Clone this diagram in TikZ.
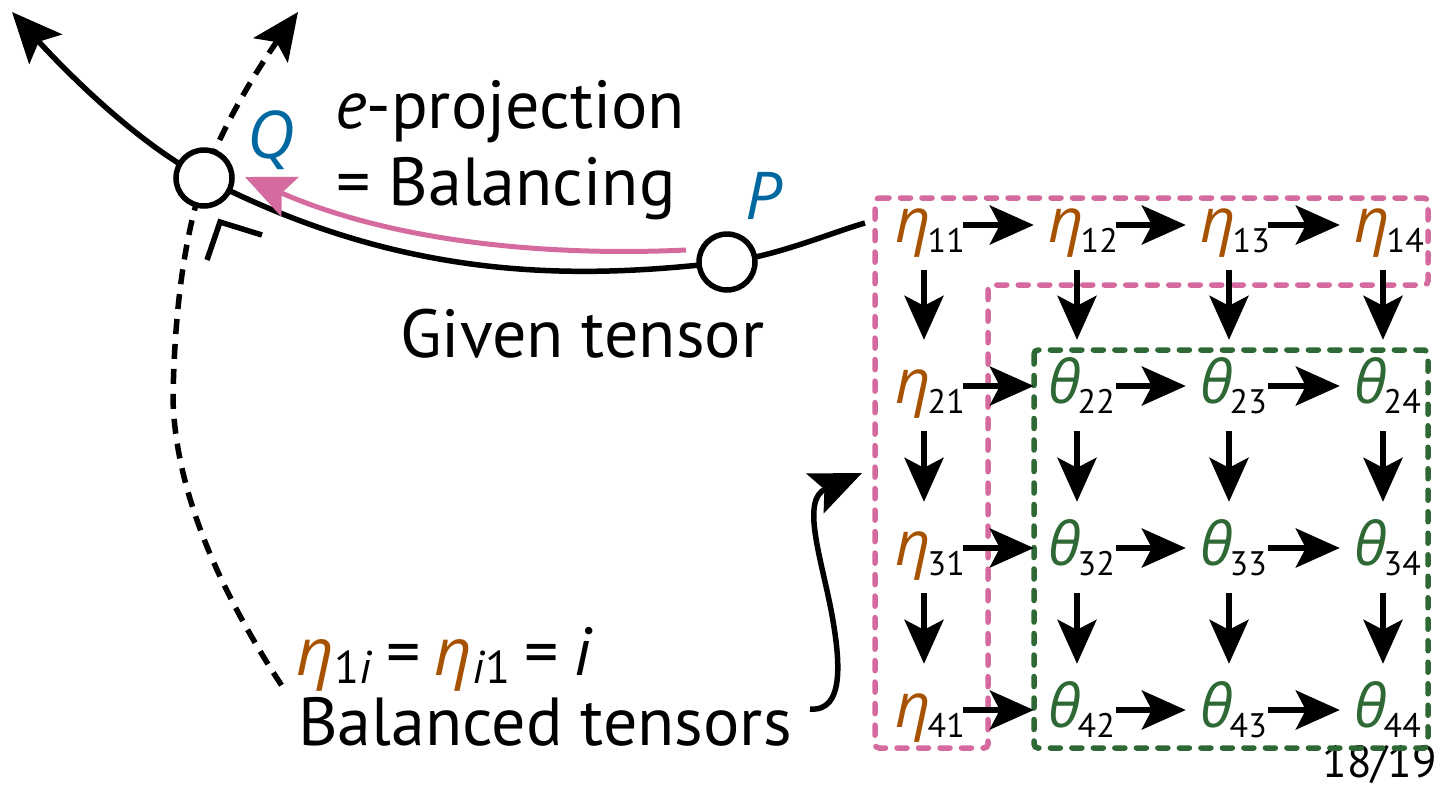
\documentclass[tikz,border=0pt]{standalone}
\usepackage{fontspec}
\setmainfont{PT Sans}
\newfontfamily\gk{Open Sans}
\usetikzlibrary{arrows.meta}
\definecolor{etaC}{RGB}{166,82,0}
\definecolor{thC}{RGB}{46,104,52}
\definecolor{pinkC}{RGB}{212,106,158}
\definecolor{blueC}{RGB}{0,104,160}
\newcommand{\myEta}[1]{{\fontsize{62}{64}\selectfont\gk\itshape\color{etaC}η}\kern-3pt\raisebox{-10pt}{\fontsize{34}{36}\selectfont #1}}
\newcommand{\myTheta}[1]{{\fontsize{60}{64}\selectfont\gk\itshape\color{thC}θ}\kern-3pt\raisebox{-10pt}{\fontsize{34}{36}\selectfont #1}}
\newcommand{\bigEta}{{\fontsize{66}{70}\selectfont\gk\itshape\color{etaC}η}}
\tikzset{
  curve/.style={line width=5.5pt, black},
  dcurve/.style={line width=5.5pt, black, dash pattern=on 15pt off 10pt},
  dot/.style={circle, draw, line width=5.5pt, fill=white, minimum size=56pt, inner sep=0pt},
  lbl/.style={inner sep=0pt, font=\fontsize{68}{72}\selectfont},
  gridn/.style={inner sep=0pt, text width=58pt, align=center, text height=50pt, text depth=16pt},
  harrow/.style={line width=5.5pt, -{Stealth[length=44pt,width=39pt,inset=10pt]}, shorten <=10pt, shorten >=14pt},
  varrow/.style={line width=5.5pt, -{Stealth[length=44pt,width=39pt,inset=10pt]}, shorten <=12pt, shorten >=13pt},
  pinkbox/.style={pinkC, line width=5.5pt, dash pattern=on 10pt off 11.5pt, line cap=round, rounded corners=4pt},
  greenbox/.style={thC, line width=5.5pt, dash pattern=on 10pt off 11.5pt, line cap=round, rounded corners=4pt}
}
\begin{document}
\begin{tikzpicture}[x=1pt,y=-1pt]
\useasboundingbox (0,0) rectangle (1443,785);
% key points
\coordinate (qc) at (204,178);
\coordinate (pc) at (727,262);
\coordinate (solidEnd) at (12,12);
\coordinate (dashTop) at (298,12);
\coordinate (dashEnd) at (282,686);
\coordinate (curveEnd) at (865,223);
\coordinate (pinkStart) at (686,250);
\coordinate (pinkTip) at (245,177);
\coordinate (curlStart) at (810,709);
\coordinate (curlTip) at (862,473);
% curves
\draw[curve, {Stealth[length=50pt,width=44pt,inset=10pt]}-] (solidEnd) .. controls (59,64) and (133,141) .. (qc)
   .. controls (400,279) and (567,281) .. (pc) .. controls (777,256) and (830,233) .. (curveEnd);
\draw[dcurve, {Stealth[length=47pt,width=42pt,inset=10pt]}-] (dashTop) .. controls (263,61) and (224,121) .. (qc)
   .. controls (181,245) and (174,330) .. (173,400) .. controls (176,500) and (227,602) .. (dashEnd);
\draw[curve] (207,260) -- (220,222) -- (262,235);
\draw[pinkC, line width=5pt, {Stealth[length=49pt,width=43pt,inset=9pt]}-] (pinkTip) .. controls (400,245) and (560,256) .. (pinkStart);
\draw[curve, -{Stealth[length=51pt,width=43pt,inset=10pt]}] (curlStart) .. controls (845,712) and (840,660) .. (832,615)
   .. controls (822,560) and (800,500) .. (curlTip);
% points
\node[dot] (Q) at (qc) {};
\node[dot] (P) at (pc) {};
\node[inner sep=0pt, anchor=base west, text=blueC, font=\fontsize{66}{70}\selectfont\gk\itshape] (qlbl) at (247,158) {Q};
\node[inner sep=0pt, anchor=base west, text=blueC, font=\fontsize{66}{70}\selectfont\gk\itshape] (plbl) at (745,219) {P};
% labels
\node[lbl, anchor=base west] (eproj) at (335,128) {\textit{e}-projection};
\node[lbl, anchor=base west] (bal) at (336,205) {= Balancing};
\node[lbl, anchor=base west] (given) at (400,357) {Given tensor};
\node[lbl, anchor=base west] (eq) at (296,675) {\bigEta\raisebox{-8pt}{\fontsize{46}{48}\selectfont 1\textit{i}}\hspace{14pt}=\hspace{14pt}\bigEta\raisebox{-8pt}{\fontsize{46}{48}\selectfont\textit{i}1}\hspace{14pt}=\hspace{14pt}\textit{i}};
\node[lbl, anchor=base west] (baltens) at (298,745) {Balanced tensors};
\node[inner sep=0pt, anchor=base east, text depth=0pt, font=\fontsize{45}{48}\selectfont] (page) at (1437,777) {18/19};
% boxes
\draw[pinkbox] (875,198) -- (1428,198) -- (1428,285) -- (988,285) -- (988,748) -- (875,748) -- cycle;
\draw[greenbox] (1034,350) rectangle (1428,748);
% grid
\node[gridn] (e11) at (924,225) {\myEta{11}};
\node[gridn] (e12) at (1077,225) {\myEta{12}};
\node[gridn] (e13) at (1229,225) {\myEta{13}};
\node[gridn] (e14) at (1383,225) {\myEta{14}};
\node[gridn] (e21) at (924,386) {\myEta{21}};
\node[gridn] (t22) at (1077,386) {\myTheta{22}};
\node[gridn] (t23) at (1229,386) {\myTheta{23}};
\node[gridn] (t24) at (1383,386) {\myTheta{24}};
\node[gridn] (e31) at (924,548) {\myEta{31}};
\node[gridn] (t32) at (1077,548) {\myTheta{32}};
\node[gridn] (t33) at (1229,548) {\myTheta{33}};
\node[gridn] (t34) at (1383,548) {\myTheta{34}};
\node[gridn] (e41) at (924,710) {\myEta{41}};
\node[gridn] (t42) at (1077,710) {\myTheta{42}};
\node[gridn] (t43) at (1229,710) {\myTheta{43}};
\node[gridn] (t44) at (1383,710) {\myTheta{44}};
\foreach \a/\b/\c/\d in {e11/e12/e13/e14, e21/t22/t23/t24, e31/t32/t33/t34, e41/t42/t43/t44} {
  \draw[harrow] (\a) -- (\b);
  \draw[harrow] (\b) -- (\c);
  \draw[harrow] (\c) -- (\d);
}
\foreach \a/\b in {e11/e21, e21/e31, e31/e41, e12/t22, t22/t32, t32/t42, e13/t23, t23/t33, t33/t43, e14/t24, t24/t34, t34/t44} {
  \draw[varrow] (\a) -- (\b);
}
\end{tikzpicture}
\end{document}
